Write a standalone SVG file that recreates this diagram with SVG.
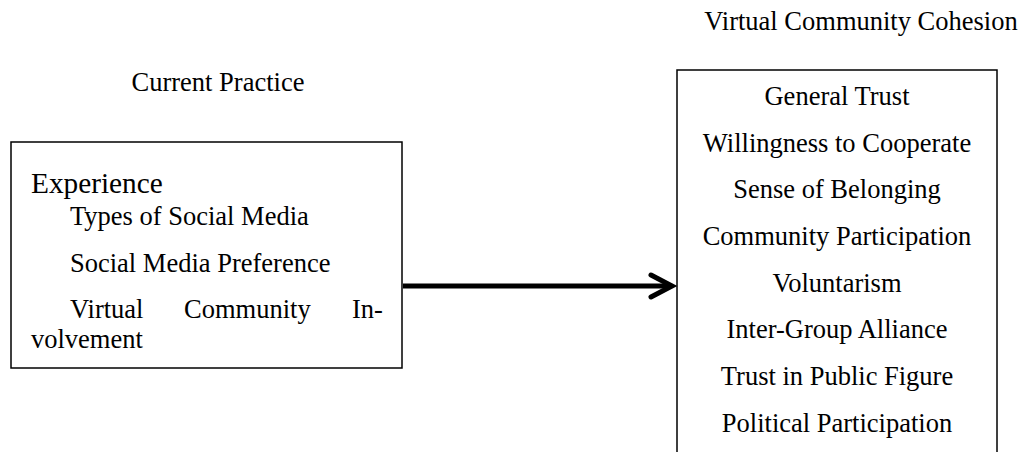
<svg xmlns="http://www.w3.org/2000/svg" width="1022" height="452" viewBox="0 0 1022 452">
<style>
text{font-family:"Liberation Serif","Times New Roman",serif;fill:#000;font-size:26.5px}
.c{text-anchor:middle}
.box{fill:#fff;stroke:#000;stroke-width:1.5}
</style>
<rect width="1022" height="452" fill="#fff"/>
<g id="label-current">
<text class="c" x="218" y="91">Current Practice</text>
</g>
<g id="label-cohesion">
<text class="c" x="861" y="30">Virtual Community Cohesion</text>
</g>
<g id="node-current-practice">
<rect class="box" x="11" y="142" width="391" height="226"/>
<text x="31" y="193" style="font-size:29.3px">Experience</text>
<text x="70" y="225">Types of Social Media</text>
<text x="70" y="272">Social Media Preference</text>
<text x="70" y="318">Virtual</text>
<text x="184" y="318">Community</text>
<text x="352" y="318">In-</text>
<text x="31" y="348">volvement</text>
</g>
<g id="node-cohesion">
<rect class="box" x="677" y="70" width="320" height="400"/>
<text class="c" x="837" y="105">General Trust</text>
<text class="c" x="837" y="152">Willingness to Cooperate</text>
<text class="c" x="837" y="198">Sense of Belonging</text>
<text class="c" x="837" y="245">Community Participation</text>
<text class="c" x="837" y="292">Voluntarism</text>
<text class="c" x="837" y="338">Inter-Group Alliance</text>
<text class="c" x="837" y="385">Trust in Public Figure</text>
<text class="c" x="837" y="432">Political Participation</text>
</g>
<g id="connectors">
<line x1="403" y1="286" x2="671" y2="286" stroke="#000" stroke-width="5"/>
<polyline points="651,275 672,286 651,297" fill="none" stroke="#000" stroke-width="5" stroke-linecap="round" stroke-linejoin="miter"/>
</g>
</svg>
